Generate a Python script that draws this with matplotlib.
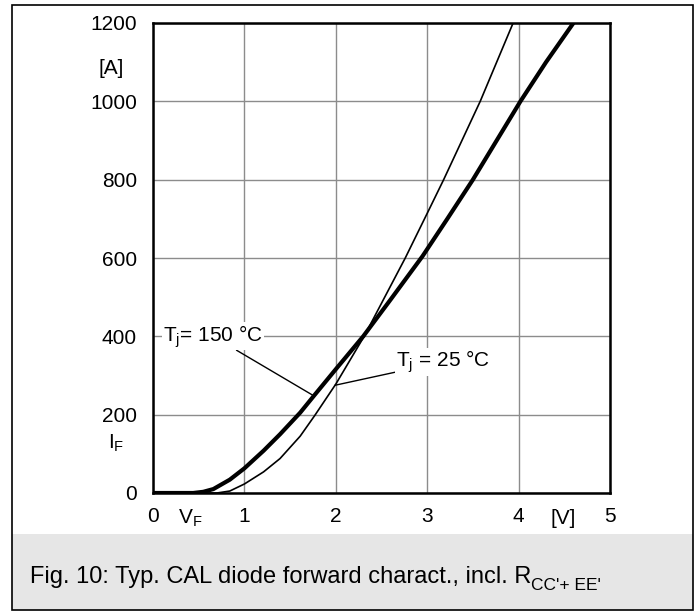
import matplotlib
matplotlib.use("Agg")
import matplotlib.pyplot as plt
from matplotlib.patches import Rectangle

plt.rcParams["font.family"] = ["Liberation Sans", "DejaVu Sans"]
plt.rcParams["mathtext.fontset"] = "custom"
plt.rcParams["mathtext.rm"] = "Liberation Sans"
plt.rcParams["mathtext.it"] = "Liberation Sans"

# forward characteristic, Tj = 150 °C (thick) and Tj = 25 °C (thin)
v_150 = [0, 0.44, 0.55, 0.66, 0.84, 1.00, 1.21, 1.39, 1.61, 1.76, 2.00, 2.30,
         2.60, 2.95, 3.22, 3.50, 3.76, 4.02, 4.30, 4.60]
i_150 = [0, 0, 3, 10, 34, 63, 108, 150, 205, 248, 316, 400, 494, 605, 700, 800,
         900, 1000, 1100, 1200]
v_25 = [0, 0.70, 0.84, 1.00, 1.21, 1.39, 1.61, 1.77, 2.00, 2.31, 2.76, 3.00,
        3.18, 3.58, 3.94]
i_25 = [0, 0, 5, 23, 54, 88, 145, 198, 278, 400, 600, 714, 800, 1000, 1200]

x_ticks = [0, 1, 2, 3, 4, 5]
y_ticks = [0, 200, 400, 600, 800, 1000, 1200]
caption = "Fig. 10: Typ. CAL diode forward charact., incl. R"
caption_sub = "CC'+ EE'"

W, H = 698, 616
FS = 15
fig = plt.figure(figsize=(W / 100, H / 100), dpi=100)


def px(x, y):
    return x / W, 1 - y / H


# outer frame and grey caption band
fig.patches.append(Rectangle(px(12, 610), 681 / W, 76 / H, transform=fig.transFigure,
                             facecolor="#e6e6e6", edgecolor="none", zorder=-2))
fig.patches.append(Rectangle(px(12, 610), 681 / W, 605 / H, transform=fig.transFigure,
                             facecolor="none", edgecolor="black", linewidth=1.2,
                             zorder=-1))

ax = fig.add_axes([153 / W, 1 - 493 / H, 457 / W, 470 / H])
ax.set_xlim(0, 5)
ax.set_ylim(0, 1200)
ax.grid(True, color="#8c8c8c", linewidth=1.0)
ax.set_axisbelow(True)
for s in ax.spines.values():
    s.set_linewidth(1.8)

ax.set_xticks(x_ticks)
ax.set_yticks(y_ticks)
ax.tick_params(length=0, labelsize=FS)
ax.tick_params(axis="y", pad=11.5)
ax.tick_params(axis="x", pad=10)

ax.plot(v_25, i_25, color="black", linewidth=1.2, solid_joinstyle="round")
ax.plot(v_150, i_150, color="black", linewidth=3.0, solid_joinstyle="round")

bbox = dict(facecolor="white", edgecolor="none", pad=0.5)
ax.annotate("T$_\\mathregular{j}$= 150 °C", xy=(1.76, 248), xytext=(0.11, 400),
            fontsize=FS, va="center", ha="left", bbox=bbox,
            arrowprops=dict(arrowstyle="-", color="black", linewidth=1.0,
                            shrinkA=0, shrinkB=0))
ax.annotate("T$_\\mathregular{j}$ = 25 °C", xy=(1.99, 275), xytext=(2.66, 335),
            fontsize=FS, va="center", ha="left", bbox=bbox,
            arrowprops=dict(arrowstyle="-", color="black", linewidth=1.0,
                            shrinkA=0, shrinkB=0))

# unit and symbol labels
fig.text(*px(111, 68), "[A]", fontsize=FS, ha="center", va="center")
fig.text(*px(116, 443), "I$_\\mathregular{F}$", fontsize=FS, ha="center", va="center")
fig.text(*px(190, 518), "V$_\\mathregular{F}$", fontsize=FS, ha="center", va="center")
fig.text(*px(563, 518), "[V]", fontsize=FS, ha="center", va="center")

t = fig.text(*px(30, 577), caption, fontsize=17, ha="left", va="center")
fig.canvas.draw()
ext = t.get_window_extent()
fig.text(ext.x1 / W, (H - 585) / H, caption_sub, fontsize=12.5, ha="left", va="center")

fig.savefig("out.png", dpi=100)
